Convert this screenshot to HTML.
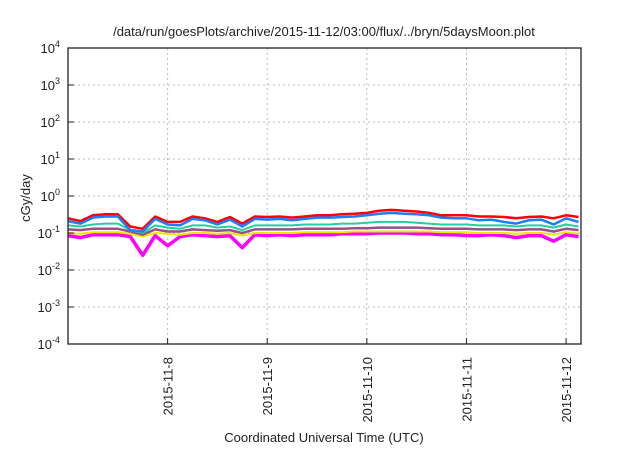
<!DOCTYPE html>
<html><head><meta charset="utf-8"><style>
body{margin:0;background:#fff;font-family:"Liberation Sans",sans-serif}
svg text{font-family:"Liberation Sans",sans-serif;fill:#222}
</style></head><body>
<svg id="c" width="640" height="448" xmlns="http://www.w3.org/2000/svg">
<text x="324" y="36" font-size="13" text-anchor="middle">/data/run/goesPlots/archive/2015-11-12/03:00/flux/../bryn/5daysMoon.plot</text>
<text transform="translate(30,198) rotate(-90)" font-size="13" text-anchor="middle">cGy/day</text>
<text x="324" y="442" font-size="13" text-anchor="middle">Coordinated Universal Time (UTC)</text>
<g id="grid"></g><g id="series"></g><g id="axes"></g>
</svg>
<script>
const xTicks=[8,9,10,11,12];
const xTickLabels=["2015-11-8","2015-11-9","2015-11-10","2015-11-11","2015-11-12"];
const yExps=[-4,-3,-2,-1,0,1,2,3,4];
const startDay=7.0, stepDay=0.125;
const red=[0.25,0.21,0.3,0.32,0.32,0.15,0.13,0.28,0.2,0.2,0.28,0.25,0.2,0.27,0.18,0.28,0.27,0.28,0.26,0.28,0.3,0.3,0.32,0.33,0.35,0.4,0.42,0.4,0.38,0.35,0.3,0.3,0.3,0.28,0.28,0.27,0.25,0.27,0.28,0.25,0.3,0.27];
const blue=[0.21,0.18,0.26,0.28,0.28,0.12,0.11,0.24,0.17,0.16,0.24,0.22,0.17,0.23,0.15,0.24,0.23,0.24,0.22,0.24,0.26,0.26,0.27,0.28,0.3,0.33,0.35,0.33,0.32,0.3,0.26,0.25,0.25,0.22,0.23,0.2,0.18,0.22,0.23,0.17,0.25,0.2];
const teal=[0.16,0.15,0.17,0.18,0.18,0.12,0.1,0.16,0.14,0.13,0.16,0.16,0.14,0.15,0.12,0.16,0.16,0.16,0.16,0.17,0.17,0.17,0.18,0.18,0.19,0.2,0.2,0.2,0.19,0.18,0.17,0.17,0.17,0.16,0.16,0.16,0.15,0.16,0.16,0.14,0.17,0.15];
const purple=[0.125,0.12,0.13,0.13,0.13,0.11,0.09,0.125,0.11,0.11,0.125,0.12,0.115,0.12,0.1,0.125,0.125,0.125,0.125,0.13,0.13,0.13,0.13,0.135,0.135,0.14,0.14,0.14,0.14,0.135,0.13,0.13,0.13,0.125,0.125,0.125,0.12,0.125,0.125,0.11,0.13,0.12];
const yellow=[0.1,0.095,0.105,0.105,0.105,0.095,0.08,0.1,0.095,0.09,0.1,0.1,0.095,0.1,0.085,0.1,0.1,0.1,0.1,0.105,0.105,0.105,0.105,0.11,0.11,0.11,0.11,0.11,0.11,0.11,0.105,0.105,0.105,0.1,0.1,0.1,0.095,0.1,0.1,0.09,0.105,0.095];
const magenta=[0.085,0.075,0.09,0.09,0.09,0.08,0.025,0.085,0.045,0.08,0.09,0.085,0.08,0.085,0.04,0.09,0.085,0.09,0.085,0.09,0.09,0.09,0.095,0.095,0.095,0.1,0.1,0.1,0.095,0.095,0.09,0.09,0.085,0.085,0.09,0.085,0.075,0.085,0.085,0.06,0.09,0.08];
const L=68,R=581,T=48,B=344,X0=7.0,X1=12.15;
const sx=d=>L+(d-X0)/(X1-X0)*(R-L);
const sy=v=>B-(Math.log10(v)+4)/8*(B-T);
const NS="http://www.w3.org/2000/svg";
function mk(tag,attrs,parent){const e=document.createElementNS(NS,tag);for(const k in attrs)e.setAttribute(k,attrs[k]);parent.appendChild(e);return e;}
const grid=document.getElementById('grid'),axes=document.getElementById('axes'),ser=document.getElementById('series');
yExps.forEach(p=>{const y=sy(Math.pow(10,p));
 if(p>-4&&p<4){const g=mk('line',{x1:L,x2:R,y1:y,y2:y,stroke:'#bbb','stroke-dasharray':'2,3','stroke-width':1},grid);
 
 }
 const t=mk('text',{x:L-8,y:y+5,'font-size':13,'text-anchor':'end'},axes);
 
 
 t.textContent='10';const s=mk('tspan',{dy:-6,'font-size':9},t);s.textContent=p;
 const tk=mk('line',{x1:L,x2:L+6,y1:y,y2:y,stroke:'#222'},axes);
 
 
});
xTicks.forEach((d,i)=>{const x=sx(d);
 const g=mk('line',{x1:x,x2:x,y1:T,y2:B,stroke:'#bbb','stroke-dasharray':'2,3'},grid);
 
 
 const t=mk('text',{transform:`translate(${x+5},${B+13}) rotate(-90)`,'font-size':13,'text-anchor':'end'},axes);
 
 
 t.textContent=xTickLabels[i];
 const tk=mk('line',{x1:x,x2:x,y1:B,y2:B-6,stroke:'#222'},axes);
 
 
});
const fr=mk('rect',{x:L,y:T,width:R-L,height:B-T,fill:'none',stroke:'#222','stroke-width':1.3},axes);


const list=[[magenta,'#ff00ff','magenta',3.5],[yellow,'#e8e800','yellow',2],[purple,'#9a4f8a','purple',2.5],[teal,'#20d0a0','teal',2],[red,'#ff0000','red',2.5],[blue,'#1e7cff','blue',2.5]];
list.forEach(([arr,col,nm,w])=>{
 const pts=arr.map((v,i)=>{const d=Math.min(startDay+i*stepDay,X1);return sx(d).toFixed(1)+','+sy(v).toFixed(1);}).join(' ');
 const p=mk('polyline',{points:pts,fill:'none',stroke:col,'stroke-width':w,'stroke-linejoin':'round'},ser);
 
 
});
</script>
</body></html>
